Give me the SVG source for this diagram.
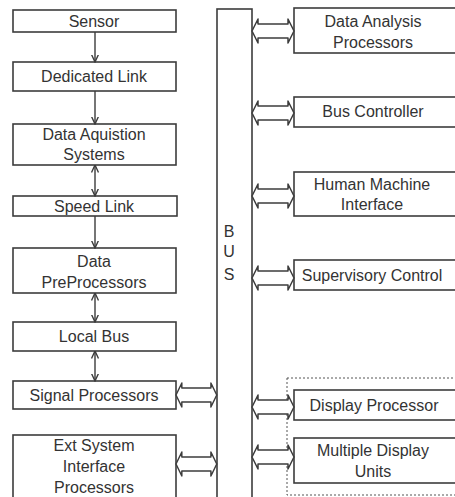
<svg xmlns="http://www.w3.org/2000/svg" width="455" height="497" viewBox="0 0 455 497">
  <style>
    .box { fill: #ffffff; stroke: #3c3c3c; stroke-width: 1.6; }
    .lbl { font-family: "Liberation Sans", Arial, sans-serif; font-size: 16px; fill: #333333; text-anchor: middle; }
    .wire { stroke: #3c3c3c; stroke-width: 1.4; fill: none; }
    .fat { fill: #ffffff; stroke: #3c3c3c; stroke-width: 1.5; stroke-linejoin: round; }
    .group { fill: none; stroke: #555555; stroke-width: 1; stroke-dasharray: 2 2; }
  </style>
  <defs>
    <marker id="head" viewBox="0 0 8 8" refX="7.5" refY="4" markerWidth="8" markerHeight="8" markerUnits="userSpaceOnUse" orient="auto-start-reverse">
      <path d="M0,0.5 L7.5,4 L0,7.5" fill="none" stroke="#3c3c3c" stroke-width="1.4"/>
    </marker>
    <!-- hollow two-way block arrow, 42 wide, centred on y=0 -->
    <path id="twoway" d="M0,0 L6,-12 L6,-7 L36,-7 L36,-12 L42,0 L36,12 L36,7 L6,7 L6,12 Z"/>
  </defs>

  <rect width="455" height="497" fill="#ffffff"/>

  <!-- left processing chain -->
  <g id="sensor">
    <rect class="box" x="13" y="10" width="163" height="22"/>
    <text class="lbl" x="94" y="27">Sensor</text>
  </g>
  <g id="dedicated-link">
    <rect class="box" x="13" y="62" width="163" height="29"/>
    <text class="lbl" x="94" y="82">Dedicated Link</text>
  </g>
  <g id="data-acquisition">
    <rect class="box" x="13" y="124" width="163" height="41"/>
    <text class="lbl" x="94" y="140">Data Aquistion</text>
    <text class="lbl" x="94" y="160">Systems</text>
  </g>
  <g id="speed-link">
    <rect class="box" x="13" y="196" width="164" height="20"/>
    <text class="lbl" x="94" y="212">Speed Link</text>
  </g>
  <g id="data-preprocessors">
    <rect class="box" x="13" y="248" width="163" height="45"/>
    <text class="lbl" x="94" y="267">Data</text>
    <text class="lbl" x="94" y="288">PreProcessors</text>
  </g>
  <g id="local-bus">
    <rect class="box" x="13" y="322" width="163" height="29"/>
    <text class="lbl" x="94" y="342">Local Bus</text>
  </g>
  <g id="signal-processors">
    <rect class="box" x="13" y="381" width="163" height="28"/>
    <text class="lbl" x="94" y="401">Signal Processors</text>
  </g>
  <g id="ext-system">
    <rect class="box" x="13" y="435" width="163" height="70"/>
    <text class="lbl" x="94" y="451">Ext System</text>
    <text class="lbl" x="94" y="472">Interface</text>
    <text class="lbl" x="94" y="493">Processors</text>
  </g>

  <!-- system bus -->
  <g id="bus">
    <rect class="box" x="217" y="9" width="35" height="500"/>
    <text class="lbl" x="229" y="237">B</text>
    <text class="lbl" x="229" y="257">U</text>
    <text class="lbl" x="229" y="280">S</text>
  </g>

  <!-- right-hand units -->
  <g id="data-analysis">
    <rect class="box" x="294" y="8" width="170" height="45"/>
    <text class="lbl" x="373" y="27">Data Analysis</text>
    <text class="lbl" x="373" y="48">Processors</text>
  </g>
  <g id="bus-controller">
    <rect class="box" x="294" y="97" width="170" height="30"/>
    <text class="lbl" x="373" y="117">Bus Controller</text>
  </g>
  <g id="hmi">
    <rect class="box" x="294" y="172" width="170" height="44"/>
    <text class="lbl" x="372" y="190">Human Machine</text>
    <text class="lbl" x="372" y="210">Interface</text>
  </g>
  <g id="supervisory-control">
    <rect class="box" x="294" y="260" width="170" height="30"/>
    <text class="lbl" x="372" y="281">Supervisory Control</text>
  </g>
  <g id="display-subsystem">
    <rect class="group" x="287" y="378" width="180" height="117"/>
  </g>
  <g id="display-processor">
    <rect class="box" x="294" y="390" width="170" height="30"/>
    <text class="lbl" x="374" y="411">Display Processor</text>
  </g>
  <g id="multiple-display-units">
    <rect class="box" x="294" y="438" width="170" height="45"/>
    <text class="lbl" x="373" y="456">Multiple Display</text>
    <text class="lbl" x="373" y="477">Units</text>
  </g>

  <!-- connectors -->
  <g id="connectors">
    <line class="wire" x1="95" y1="32" x2="95" y2="62" marker-end="url(#head)"/>
    <line class="wire" x1="95" y1="91" x2="95" y2="124" marker-end="url(#head)"/>
    <line class="wire" x1="95" y1="165" x2="95" y2="196" marker-start="url(#head)" marker-end="url(#head)"/>
    <line class="wire" x1="95" y1="216" x2="95" y2="248" marker-end="url(#head)"/>
    <line class="wire" x1="95" y1="293" x2="95" y2="322" marker-start="url(#head)" marker-end="url(#head)"/>
    <line class="wire" x1="95" y1="351" x2="95" y2="381" marker-start="url(#head)" marker-end="url(#head)"/>

    <use href="#twoway" class="fat" x="176" y="395" transform="translate(176 395) scale(0.97 1) translate(-176 -395)"/>
    <use href="#twoway" class="fat" x="176" y="464" transform="translate(176 464) scale(0.97 1) translate(-176 -464)"/>

    <use href="#twoway" class="fat" x="252" y="31"/>
    <use href="#twoway" class="fat" x="252" y="113"/>
    <use href="#twoway" class="fat" x="252" y="196"/>
    <use href="#twoway" class="fat" x="252" y="278"/>
    <use href="#twoway" class="fat" x="252" y="407"/>
    <use href="#twoway" class="fat" x="252" y="457"/>
  </g>
</svg>
